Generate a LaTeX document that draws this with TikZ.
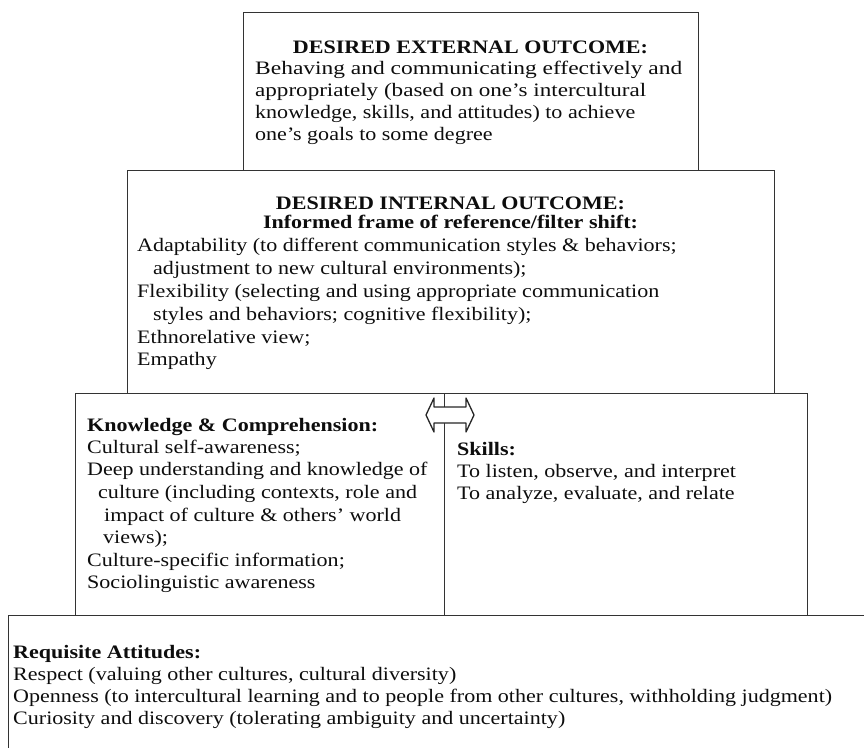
\documentclass[tikz,border=0pt]{standalone}
\usepackage{graphicx}
\usepackage{fontspec}
\setmainfont[FakeStretch=1.16]{Liberation Serif}
\begin{document}
\begin{tikzpicture}[x=1pt,y=-1pt,
  frame/.style={draw=black!80, line width=1.4pt, rectangle, inner sep=0pt, anchor=north west},
  txt/.style={anchor=base west, inner sep=0pt, font=\fontsize{19}{22}\selectfont, text=black!95},
  head/.style={anchor=base, inner sep=0pt, font=\fontsize{19}{22}\selectfont\bfseries, text=black!95},
  lhead/.style={txt, font=\fontsize{19}{22}\selectfont\bfseries}]
\useasboundingbox (0,0) rectangle (864,747);

% the stacked frames
\node[frame, minimum width=455pt, minimum height=158pt] (ext) at (243,12) {};
\node[frame, minimum width=647pt, minimum height=223pt] (int) at (127,170) {};
\node[frame, minimum width=369pt, minimum height=222pt] (know) at (75,393) {};
\node[frame, minimum width=363pt, minimum height=222pt] (skill) at (444,393) {};
\node[frame, minimum width=880pt, minimum height=150pt] (att) at (8,615) {};

% two-way arrow between knowledge and skills
\draw[draw=black!85, line width=1.3pt, fill=white, line join=round]
  (426,415) -- (434,398) -- (434,407) -- (466,407) -- (466,398) -- (474,415)
  -- (466,432) -- (466,423) -- (434,423) -- (434,432) -- cycle;

% external outcome
\node[head] (e0) at (470.5,53) {DESIRED EXTERNAL OUTCOME:};
\node[txt] (e1) at (255,74.5) {\resizebox{427pt}{\height}{Behaving and communicating effectively and}};
\node[txt] (e2) at (255,96.5) {\resizebox{391pt}{\height}{appropriately (based on one’s intercultural}};
\node[txt] (e3) at (255,118.5) {knowledge, skills, and attitudes) to achieve};
\node[txt] (e4) at (255,140.5) {one’s goals to some degree};

% internal outcome
\node[head] (i0) at (450.5,209) {DESIRED INTERNAL OUTCOME:};
\node[head] (i1) at (450.5,228) {Informed frame of reference/filter shift:};
\node[txt] (i2) at (137,251.5) {Adaptability (to different communication styles \& behaviors;};
\node[txt] (i3) at (153,274.5) {adjustment to new cultural environments);};
\node[txt] (i4) at (137,297.5) {Flexibility (selecting and using appropriate communication};
\node[txt] (i5) at (153,320.5) {styles and behaviors; cognitive flexibility);};
\node[txt] (i6) at (137,343.5) {Ethnorelative view;};
\node[txt] (i7) at (137,365) {Empathy};

% knowledge and comprehension
\node[lhead] (k0) at (87,431) {Knowledge \& Comprehension:};
\node[txt] (k1) at (87,453) {Cultural self-awareness;};
\node[txt] (k2) at (87,475.5) {Deep understanding and knowledge of};
\node[txt] (k3) at (98,498.5) {culture (including contexts, role and};
\node[txt] (k4) at (104,521) {impact of culture \& others’ world};
\node[txt] (k5) at (103,543.5) {views);};
\node[txt] (k6) at (87,566) {Culture-specific information;};
\node[txt] (k7) at (87,588.5) {Sociolinguistic awareness};

% skills
\node[lhead] (s0) at (457,455) {Skills:};
\node[txt] (s1) at (457,477) {To listen, observe, and interpret};
\node[txt] (s2) at (457,499.5) {To analyze, evaluate, and relate};

% requisite attitudes
\node[lhead] (a0) at (13,658) {Requisite Attitudes:};
\node[txt] (a1) at (13,680) {Respect (valuing other cultures, cultural diversity)};
\node[txt] (a2) at (13,702) {Openness (to intercultural learning and to people from other cultures, withholding judgment)};
\node[txt] (a3) at (13,724) {Curiosity and discovery (tolerating ambiguity and uncertainty)};
\end{tikzpicture}
\end{document}
